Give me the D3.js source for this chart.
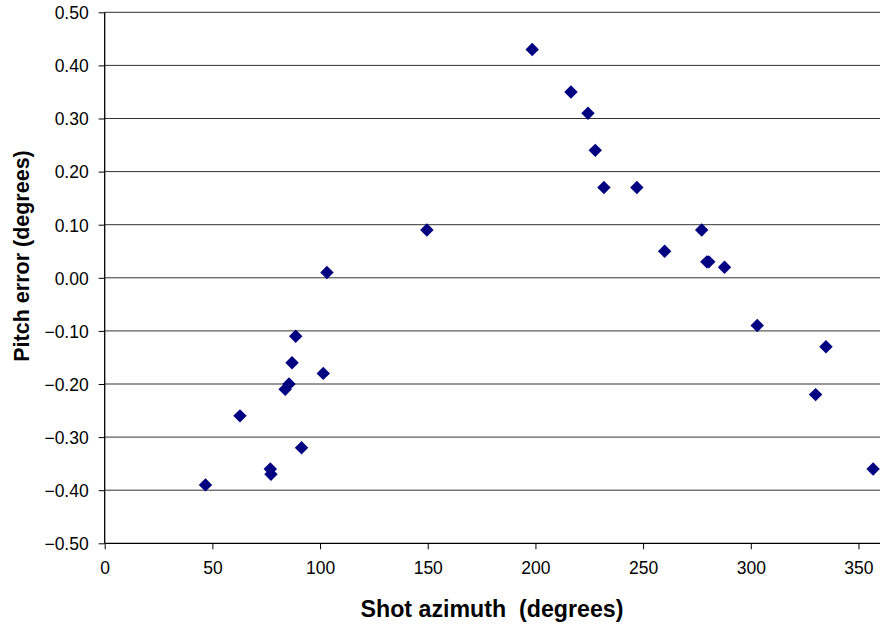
<!DOCTYPE html>
<html>
<head>
<meta charset="utf-8">
<script src="https://cdn.jsdelivr.net/npm/d3@7"></script>
<style>
body { margin: 0; background: #fff; }
text { font-family: "Liberation Sans", Arial, sans-serif; }
</style>
</head>
<body>
<div id="chart"></div>
<script>
// shot azimuth vs pitch error
var azimuth = [46.8, 62.8, 76.9, 77.2, 83.8, 85.6, 87.0, 88.7, 91.4, 101.5, 103.2,
               149.6, 198.5, 216.5, 224.4, 227.8, 231.8, 247.1, 260.0, 277.2, 279.6,
               280.5, 287.8, 303.0, 330.1, 334.9, 356.8];
var pitchErr = [-0.39, -0.26, -0.36, -0.37, -0.21, -0.20, -0.16, -0.11, -0.32, -0.18, 0.01,
                0.09, 0.43, 0.35, 0.31, 0.24, 0.17, 0.17, 0.05, 0.09, 0.03,
                0.03, 0.02, -0.09, -0.22, -0.13, -0.36];
var xTicks = [0, 50, 100, 150, 200, 250, 300, 350];
var yTicks = [-0.5, -0.4, -0.3, -0.2, -0.1, 0, 0.1, 0.2, 0.3, 0.4, 0.5];

var width = 880, height = 626;
var plotLeft = 104.7, plotRight = 880, plotTop = 12.3, plotBottom = 543.3;

var svg = d3.select("#chart").append("svg")
    .attr("width", width)
    .attr("height", height);

var x = d3.scaleLinear().domain([0, 360]).range([plotLeft, plotRight]);
var y = d3.scaleLinear().domain([-0.5, 0.5]).range([plotBottom, plotTop]);

// horizontal gridlines
svg.append("g")
  .selectAll("line")
  .data(yTicks.filter(function(d){ return d > -0.5; }))
  .enter().append("line")
  .attr("x1", plotLeft).attr("x2", plotRight)
  .attr("y1", function(d){ return y(d); })
  .attr("y2", function(d){ return y(d); })
  .attr("stroke", "#333")
  .attr("stroke-width", 1);

// y axis
var yAxis = svg.append("g")
  .attr("transform", "translate(" + plotLeft + ",0)")
  .call(d3.axisLeft(y).tickValues(yTicks).tickFormat(d3.format(".2f")).tickSize(6).tickPadding(10));

// x axis
var xAxis = svg.append("g")
  .attr("transform", "translate(0," + plotBottom + ")")
  .call(d3.axisBottom(x).tickValues(xTicks).tickFormat(d3.format("d")).tickSize(6).tickPadding(12));

[yAxis, xAxis].forEach(function(ax){
  ax.select(".domain").attr("stroke", "#000").attr("stroke-width", 1.3);
  ax.selectAll(".tick line").attr("stroke", "#000");
  ax.selectAll(".tick text")
    .attr("fill", "#000")
    .style("font-size", "17.5px")
    .style("font-family", "'Liberation Sans', Arial, sans-serif");
});
xAxis.select(".domain").attr("d", "M" + plotLeft + ",0H" + plotRight);
yAxis.select(".domain").attr("d", "M0," + plotBottom + "V" + plotTop);
yAxis.selectAll(".tick text").attr("dy", "0.36em");

// points, navy diamonds
var diamond = d3.symbol().type(d3.symbolDiamond2).size(115);
svg.append("g")
  .selectAll("path")
  .data(azimuth)
  .enter().append("path")
  .attr("d", diamond)
  .attr("transform", function(d, i){ return "translate(" + x(d) + "," + y(pitchErr[i]) + ")"; })
  .attr("fill", "#000080");

// axis titles
svg.append("text")
  .attr("x", 492).attr("y", 617)
  .attr("text-anchor", "middle")
  .style("font-size", "23.2px").style("font-weight", "bold")
  .style("white-space", "pre")
  .text("Shot azimuth  (degrees)");

svg.append("text")
  .attr("transform", "translate(28.5,256) rotate(-90)")
  .attr("text-anchor", "middle")
  .style("font-size", "21.5px").style("font-weight", "bold")
  .text("Pitch error (degrees)");
</script>
</body>
</html>
